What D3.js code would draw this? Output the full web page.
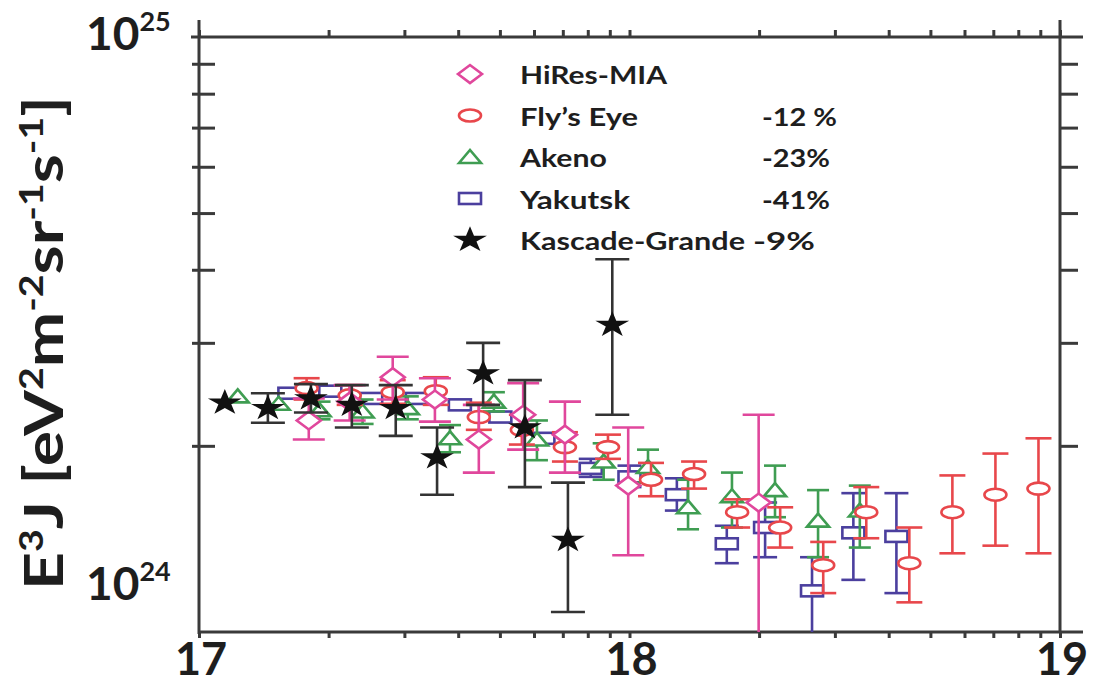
<!DOCTYPE html>
<html>
<head>
<meta charset="utf-8">
<script src="https://cdn.jsdelivr.net/npm/d3@7"></script>
<style>
  body { margin: 0; background: #fff; }
  text { font-family: Lato, "Open Sans", sans-serif; font-weight: bold; fill: #1e1e1e; }
</style>
</head>
<body>
<script>
// [log10(E/eV), E^3 J, lower, upper]  (E^3 J in units of 1e24 eV^2 m^-2 sr^-1 s^-1)
let hiresMia = [
  [17.255, 2.21, 2.05, 2.41],
  [17.35, 2.38, 2.21, 2.54],
  [17.45, 2.62, 2.40, 2.84],
  [17.548, 2.40, 2.20, 2.61],
  [17.65, 2.05, 1.80, 2.35],
  [17.753, 2.26, 1.97, 2.56],
  [17.85, 2.09, 1.80, 2.38],
  [17.997, 1.71, 1.30, 2.15],
  [18.30, 1.60, 0.90, 2.26]
];

let flysEye = [
  [17.25, 2.51, 2.40, 2.61],
  [17.35, 2.44, 2.35, 2.54],
  [17.45, 2.47, 2.36, 2.59],
  [17.55, 2.48, 2.35, 2.62],
  [17.65, 2.24, 2.13, 2.37],
  [17.75, 2.13, 2.01, 2.26],
  [17.85, 1.99, 1.88, 2.11],
  [17.95, 1.99, 1.90, 2.09],
  [18.05, 1.75, 1.64, 1.87],
  [18.15, 1.79, 1.69, 1.88],
  [18.25, 1.54, 1.45, 1.62],
  [18.35, 1.45, 1.34, 1.57],
  [18.45, 1.25, 1.12, 1.37],
  [18.55, 1.54, 1.39, 1.70],
  [18.65, 1.26, 1.08, 1.45],
  [18.75, 1.54, 1.31, 1.78],
  [18.85, 1.65, 1.35, 1.94],
  [18.95, 1.69, 1.31, 2.06]
];

let akeno = [
  [17.09, 2.43, null, null],
  [17.185, 2.36, null, null],
  [17.28, 2.30, 2.22, 2.38],
  [17.38, 2.29, 2.18, 2.40],
  [17.485, 2.32, 2.22, 2.43],
  [17.583, 2.06, 1.95, 2.17],
  [17.685, 2.38, 2.29, 2.47],
  [17.785, 2.05, 1.89, 2.21],
  [17.94, 1.88, 1.75, 2.02],
  [18.043, 1.84, 1.73, 1.97],
  [18.136, 1.57, 1.44, 1.75],
  [18.238, 1.64, 1.45, 1.80],
  [18.338, 1.68, 1.51, 1.85],
  [18.438, 1.49, 1.29, 1.68],
  [18.535, 1.55, 1.34, 1.71]
];

let yakutsk = [
  [17.21, 2.46, null, null],
  [17.305, 2.48, null, null],
  [17.40, 2.41, null, null],
  [17.506, 2.41, null, null],
  [17.606, 2.35, null, null],
  [17.70, 2.24, null, null],
  [17.80, 2.06, null, null],
  [17.91, 1.83, 1.77, 1.90],
  [18.00, 1.77, 1.70, 1.85],
  [18.11, 1.65, 1.55, 1.76],
  [18.226, 1.36, 1.26, 1.46],
  [18.315, 1.45, 1.29, 1.60],
  [18.424, 1.13, 0.90, 1.29],
  [18.52, 1.42, 1.18, 1.66],
  [18.62, 1.40, 1.12, 1.66]
];

let kascadeGrande = [
  [17.06, 2.37, null, null],
  [17.16, 2.32, 2.19, 2.46],
  [17.26, 2.41, 2.28, 2.55],
  [17.355, 2.35, 2.15, 2.54],
  [17.457, 2.32, 2.08, 2.54],
  [17.553, 1.91, 1.65, 2.15],
  [17.66, 2.66, 2.35, 3.00],
  [17.757, 2.15, 1.70, 2.59],
  [17.857, 1.38, 1.04, 1.73],
  [17.96, 3.22, 2.26, 4.17]
];

let seriesNames = ['HiRes-MIA', "Fly\u2019s Eye", 'Akeno', 'Yakutsk', 'Kascade-Grande'];
let seriesShifts = ['', '-12 %', '-23%', '-41%', '-9%'];
let xTickLabels = [17, 18, 19];
let yTickLabels = [[1, '10', '24'], [10, '10', '25']];

let w = 1100;
let h = 685;

let x = d3.scaleLinear().domain([17, 19]).range([199, 1060]);
let y = d3.scaleLog().domain([0.961, 10]).range([632, 37]);

let svg = d3.select('body')
  .append('svg')
  .attr('width', w)
  .attr('height', h);

let axisColor = '#3a3a3a';

// minor log ticks along x (log10 E): k * 10^n
let xMinor = [];
[17, 18].forEach((d) => {
  for (let k = 1; k <= 9; k++) xMinor.push(d + Math.log10(k));
});
xMinor.push(19);
let yMinor = [2, 3, 4, 5, 6, 7, 8, 9];

function styleAxis(g) {
  g.select('.domain').remove();
  g.selectAll('line').attr('stroke', axisColor).attr('stroke-width', 3);
}

svg.append('g')
  .attr('transform', 'translate(0,' + y(0.961) + ')')
  .call(d3.axisBottom(x).tickValues(xMinor).tickSize(6).tickFormat(''))
  .call(styleAxis);

svg.append('g')
  .attr('transform', 'translate(0,' + y(10) + ')')
  .call(d3.axisTop(x).tickValues(xMinor).tickSize(7).tickFormat(''))
  .call(styleAxis);

svg.append('g')
  .attr('transform', 'translate(' + x(17) + ',0)')
  .call(d3.axisLeft(y).tickValues(yMinor).tickSize(-16).tickFormat(''))
  .call(styleAxis)
  .selectAll('line').attr('x1', -7);

svg.append('g')
  .attr('transform', 'translate(' + x(19) + ',0)')
  .call(d3.axisRight(y).tickValues(yMinor).tickSize(18).tickFormat(''))
  .call(styleAxis);

// frame
let frame = svg.append('g').attr('stroke', axisColor).attr('stroke-width', 3);
frame.append('line').attr('x1', x(17)).attr('x2', x(17)).attr('y1', 20).attr('y2', y(0.961) + 2);
frame.append('line').attr('x1', x(19)).attr('x2', x(19)).attr('y1', 20).attr('y2', y(0.961) + 1);
frame.append('line').attr('x1', x(17) - 8).attr('x2', 1083).attr('y1', y(10)).attr('y2', y(10));
frame.append('line').attr('x1', x(17)).attr('x2', 1083).attr('y1', y(0.961)).attr('y2', y(0.961));

// tick labels
svg.selectAll('.xlab')
  .data(xTickLabels)
  .enter()
  .append('text')
  .attr('class', 'xlab')
  .attr('x', (d) => x(d) + 2)
  .attr('y', 675)
  .attr('text-anchor', 'middle')
  .attr('font-size', '45px')
  .text((d) => d);

let ylab = svg.selectAll('.ylab')
  .data(yTickLabels)
  .enter()
  .append('text')
  .attr('class', 'ylab')
  .attr('x', 86)
  .attr('y', (d) => d[0] === 1 ? y(d[0]) - 22 : y(d[0]) + 13)
  .attr('font-size', '46px');
ylab.append('tspan').text((d) => d[1]);
ylab.append('tspan').attr('font-size', '27px').attr('dy', -19).text((d) => d[2]);

// y title
let title = svg.append('text')
  .attr('transform', 'translate(63,343) rotate(-90)')
  .attr('text-anchor', 'middle')
  .attr('font-size', '54px')
  .attr('textLength', 494)
  .attr('lengthAdjust', 'spacingAndGlyphs');
let parts = [['E', 0], ['3', 1], ['J [eV', 0], ['2', 1], ['m', 0], ['-2', 1], ['sr', 0], ['-1', 1], ['s', 0], ['-1', 1], [']', 0]];
let prevSup = 0;
parts.forEach((p) => {
  let t = title.append('tspan').text(p[0]);
  if (p[1] !== prevSup) t.attr('dy', p[1] ? -20 : 20);
  if (p[1]) t.attr('font-size', '32px');
  prevSup = p[1];
});

// markers
function marker(sel, kind, color) {
  if (kind === 'circle') {
    sel.append('ellipse').attr('rx', 11).attr('ry', 6)
      .attr('fill', '#fff').attr('stroke', color).attr('stroke-width', 2.6);
  } else if (kind === 'diamond') {
    sel.append('path').attr('d', 'M-12,0L0,-9L12,0L0,9Z')
      .attr('fill', '#fff').attr('stroke', color).attr('stroke-width', 2.6);
  } else if (kind === 'triangle') {
    sel.append('path').attr('d', 'M-11,6L0,-7L11,6Z')
      .attr('fill', '#fff').attr('stroke', color).attr('stroke-width', 2.6);
  } else if (kind === 'square') {
    sel.append('rect').attr('x', -11).attr('y', -5.5).attr('width', 22).attr('height', 11)
      .attr('fill', '#fff').attr('stroke', color).attr('stroke-width', 2.6);
  } else {
    sel.append('path').attr('d', d3.symbol(d3.symbolStar, 210)())
      .attr('transform', 'scale(1.3,1)')
      .attr('fill', color);
  }
}

let series = [
  { data: yakutsk, kind: 'square', color: '#4b3f9e', bar: '#4b3f9e', cap: 12 },
  { data: akeno, kind: 'triangle', color: '#3f9d52', bar: '#3f9d52', cap: 11 },
  { data: flysEye, kind: 'circle', color: '#e8474b', bar: '#e8474b', cap: 13 },
  { data: hiresMia, kind: 'diamond', color: '#e0479c', bar: '#e0479c', cap: 16 },
  { data: kascadeGrande, kind: 'star', color: '#111', bar: '#333', cap: 17 }
];

svg.append('clipPath').attr('id', 'plot')
  .append('rect').attr('x', x(17)).attr('y', y(10)).attr('width', x(19) - x(17)).attr('height', y(0.961) - y(10));

let plot = svg.append('g').attr('clip-path', 'url(#plot)');

series.forEach((s) => {
  let g = plot.append('g');
  let withErr = s.data.filter((d) => d[2] !== null);
  let eb = g.selectAll('.eb')
    .data(withErr)
    .enter()
    .append('g')
    .attr('stroke', s.bar)
    .attr('stroke-width', 2.6);
  eb.append('line')
    .attr('x1', (d) => x(d[0])).attr('x2', (d) => x(d[0]))
    .attr('y1', (d) => y(d[2])).attr('y2', (d) => y(d[3]));
  eb.append('line')
    .attr('x1', (d) => x(d[0]) - s.cap).attr('x2', (d) => x(d[0]) + s.cap)
    .attr('y1', (d) => y(d[2])).attr('y2', (d) => y(d[2]));
  eb.append('line')
    .attr('x1', (d) => x(d[0]) - s.cap).attr('x2', (d) => x(d[0]) + s.cap)
    .attr('y1', (d) => y(d[3])).attr('y2', (d) => y(d[3]));

  g.selectAll('.pt')
    .data(s.data)
    .enter()
    .append('g')
    .attr('transform', (d) => 'translate(' + x(d[0]) + ',' + y(d[1]) + ')')
    .each(function () { marker(d3.select(this), s.kind, s.color); });
});

// legend
let legendOrder = [3, 2, 1, 0, 4];
let textWidths = [147, 118, 87, 110, 225];
let shiftWidths = [0, 75, 68, 68, 62];
let legend = svg.append('g');
seriesNames.forEach((name, i) => {
  let s = series[legendOrder[i]];
  let cy = 74 + i * 41.5;
  let sym = legend.append('g').attr('transform', 'translate(470,' + cy + ')');
  marker(sym, s.kind, s.color);
  legend.append('text')
    .attr('x', 520).attr('y', cy + 10)
    .attr('font-size', '25px')
    .attr('textLength', textWidths[i])
    .attr('lengthAdjust', 'spacingAndGlyphs')
    .text(name);
  if (seriesShifts[i]) {
    legend.append('text')
      .attr('x', i === 4 ? 753 : 762).attr('y', cy + 10)
      .attr('font-size', '25px')
      .attr('textLength', shiftWidths[i])
      .attr('lengthAdjust', 'spacingAndGlyphs')
      .text(seriesShifts[i]);
  }
});
</script>
</body>
</html>
